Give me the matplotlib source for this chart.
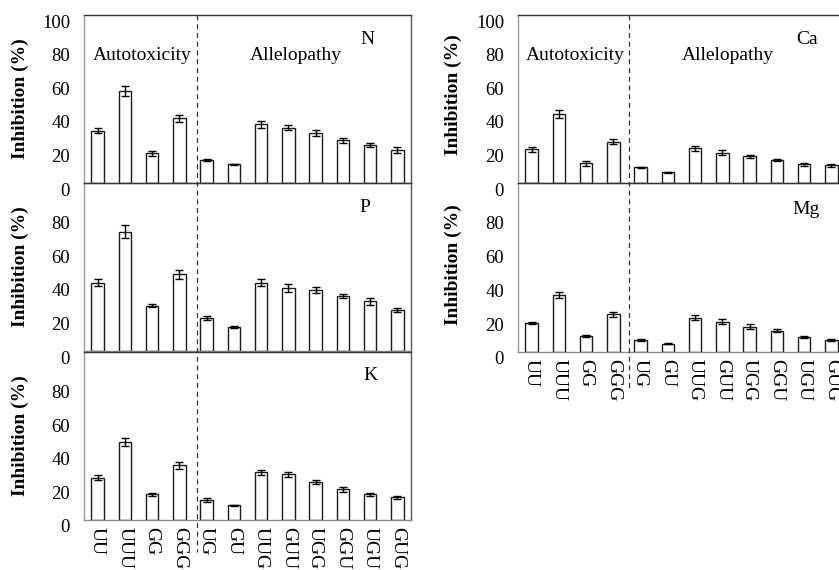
import matplotlib
matplotlib.use("Agg")
import matplotlib.pyplot as plt
from matplotlib.transforms import ScaledTranslation
from matplotlib.lines import Line2D

plt.rcParams['font.family'] = ['Liberation Serif', 'DejaVu Serif']

categories = ['UU', 'UUU', 'GG', 'GGG', 'UG', 'GU', 'UUG', 'GUU', 'UGG', 'GGU', 'UGU', 'GUG']

n_vals = [31, 55, 17.7, 38.5, 13.7, 11.1, 35, 33, 29.6, 25.4, 22.6, 19.8]
n_err = [1.5, 3, 1.5, 2, 0.5, 0.3, 2, 1.5, 1.7, 1.5, 1.3, 1.7]
p_vals = [40.7, 71, 27, 45.6, 19.8, 14.1, 40.7, 37.3, 36.1, 32.7, 29.6, 24.2]
p_err = [2.3, 4, 1, 2.7, 1.2, 0.5, 2.3, 2.4, 1.8, 1.4, 2, 1.2]
k_vals = [25.2, 46.2, 15.3, 32.5, 11.9, 8.7, 28.4, 27.2, 22.4, 18.3, 15.3, 13.5]
k_err = [1.6, 2.4, 0.8, 1.9, 0.9, 0.3, 1.6, 1.4, 1.2, 1.4, 1.0, 0.8]
ca_vals = [20, 41, 11.7, 24.6, 9.3, 6.3, 20.6, 18, 15.9, 13.5, 11.1, 10.5]
ca_err = [1.5, 2.2, 1.3, 1.4, 0.5, 0.4, 1.5, 1.4, 0.8, 0.5, 0.8, 0.8]
mg_vals = [17.3, 33.7, 9.5, 22.2, 7.1, 4.9, 20.2, 18, 14.9, 12.7, 8.7, 7.3]
mg_err = [0.7, 2, 0.6, 1.4, 0.5, 0.3, 1.5, 1.4, 1.4, 0.8, 0.6, 0.6]

ytick_full = [0, 20, 40, 60, 80, 100]
ytick_short = [0, 20, 40, 60, 80]
group_labels = ['Autotoxicity', 'Allelopathy']

W, H = 839, 570
fig = plt.figure(figsize=(W / 100, H / 100), dpi=100)


def add_ax(x0, x1, y0, y1):
    return fig.add_axes([x0 / W, 1 - y1 / H, (x1 - x0) / W, (y1 - y0) / H])


def draw_panel(ax, vals, errs, name, name_xy, yticks, show_x, show_groups, group_x):
    x = list(range(len(categories)))
    ax.bar(x, vals, width=0.45, color='white', edgecolor='#1a1a1a', linewidth=1.0, zorder=2)
    ax.errorbar(x, vals, yerr=errs, fmt='none', ecolor='black', elinewidth=1.0,
                capsize=2.6, capthick=1.0, zorder=3)
    ax.set_xlim(-0.5, len(categories) - 0.5)
    ax.set_ylim(0, 100)
    ax.set_yticks(yticks)
    ax.set_yticklabels([str(t) for t in yticks], fontsize=13.5)
    ax.tick_params(axis='y', length=0, pad=10)
    ax.set_xticks(x)
    if show_x:
        ax.set_xticklabels(categories, rotation=270, fontsize=14, va='top', ha='center')
        ax.tick_params(axis='x', length=0, pad=5)
    else:
        ax.set_xticklabels([])
        ax.tick_params(axis='x', length=0)
    off = ScaledTranslation(0, -6 / 100, fig.dpi_scale_trans)
    for lab in ax.get_yticklabels():
        lab.set_transform(lab.get_transform() + off)
    ax.spines['left'].set_color('#9a9a9a')
    ax.spines['bottom'].set_color('#8a8a8a')
    ax.spines['top'].set_color('#333333')
    ax.spines['right'].set_color('#555555')
    for s in ax.spines.values():
        s.set_linewidth(1.0)
    ax.patch.set_alpha(0)
    fig.text(name_xy[0] / W, 1 - name_xy[1] / H, name, fontsize=14, ha='center', va='center')
    if show_groups:
        for gx, gl in zip(group_x, group_labels):
            fig.text(gx / W, 1 - 55 / H, gl, fontsize=14, ha='center', va='center')


# left column
LX0, LX1 = 84, 411
axN = add_ax(LX0, LX1, 15, 183)
axP = add_ax(LX0, LX1, 183, 351)
axK = add_ax(LX0, LX1, 352, 520)
# right column (clipped at right edge as in original)
RX0, RX1 = 518, 845
axCa = add_ax(RX0, RX1, 15, 183)
axMg = add_ax(RX0, RX1, 183, 352)

draw_panel(axN, n_vals, n_err, 'N', (367, 39), ytick_full, False, True, (142, 296))
draw_panel(axP, p_vals, p_err, 'P', (365, 207), ytick_short, False, False, None)
draw_panel(axK, k_vals, k_err, 'K', (370, 376), ytick_short, True, False, None)
draw_panel(axCa, ca_vals, ca_err, 'Ca', (807, 39), ytick_full, False, True, (575, 728))
draw_panel(axMg, mg_vals, mg_err, 'Mg', (806, 209), ytick_short, True, False, None)

# y labels
for cx, cy in [(20, 99), (20, 267), (20, 436), (453, 95), (453, 265)]:
    fig.text(cx / W, 1 - cy / H, 'Inhibition (%)', rotation=90, fontsize=14,
             fontweight='bold', ha='center', va='center')

# dashed separators
fig.add_artist(Line2D([197.3 / W, 197.3 / W], [1 - 15 / H, 1 - 552 / H],
                      color='#333333', linestyle=(0, (4, 3)), linewidth=0.9))
fig.add_artist(Line2D([629.3 / W, 629.3 / W], [1 - 15 / H, 1 - 388 / H],
                      color='#333333', linestyle=(0, (4, 3)), linewidth=0.9))

fig.savefig('out.png', dpi=100)
